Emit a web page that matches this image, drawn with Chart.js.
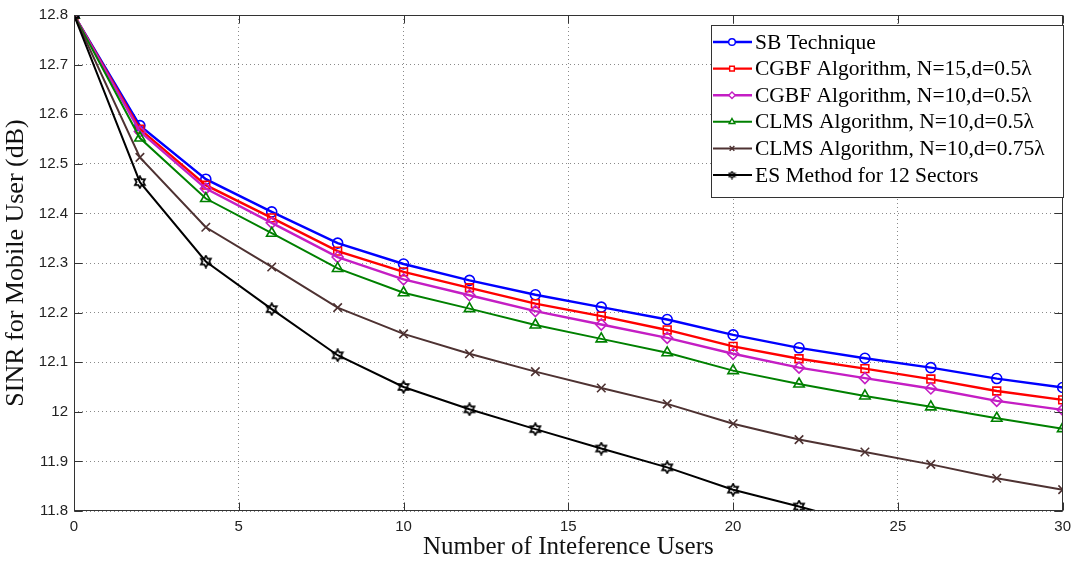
<!DOCTYPE html>
<html>
<head>
<meta charset="utf-8">
<script src="https://cdn.jsdelivr.net/npm/chart.js@4.4.1/dist/chart.umd.min.js"></script>
<style>
  html, body { margin:0; padding:0; background:#fff; }
</style>
</head>
<body>
<canvas id="c" width="1078" height="563"></canvas>
<script>
// number of interference users
const users = [0, 2, 4, 6, 8, 10, 12, 14, 16, 18, 20, 22, 24, 26, 28, 30];

// SINR (dB)
const sbTech    = [12.8, 12.577, 12.469, 12.403, 12.340, 12.298, 12.265, 12.236, 12.211, 12.186, 12.155, 12.129, 12.108, 12.089, 12.067, 12.049];
const cgbf15    = [12.8, 12.570, 12.457, 12.391, 12.324, 12.282, 12.250, 12.218, 12.193, 12.165, 12.132, 12.107, 12.087, 12.066, 12.042, 12.024];
const cgbf10    = [12.8, 12.565, 12.450, 12.381, 12.312, 12.267, 12.235, 12.203, 12.176, 12.149, 12.117, 12.089, 12.068, 12.047, 12.022, 12.004];
const clms05    = [12.8, 12.552, 12.430, 12.360, 12.289, 12.240, 12.208, 12.175, 12.147, 12.119, 12.083, 12.056, 12.032, 12.010, 11.987, 11.966];
const clms075   = [12.8, 12.513, 12.372, 12.292, 12.210, 12.157, 12.117, 12.081, 12.048, 12.016, 11.976, 11.944, 11.919, 11.894, 11.866, 11.843];
const esMethod  = [12.8, 12.463, 12.303, 12.207, 12.114, 12.050, 12.005, 11.965, 11.926, 11.888, 11.843, 11.809, 11.773, 11.740, 11.710, 11.680];

const labels = [
  'SB Technique',
  'CGBF Algorithm, N=15,d=0.5\u03bb',
  'CGBF Algorithm, N=10,d=0.5\u03bb',
  'CLMS Algorithm, N=10,d=0.5\u03bb',
  'CLMS Algorithm, N=10,d=0.75\u03bb',
  'ES Method for 12 Sectors'
];

const xTicks = [0, 5, 10, 15, 20, 25, 30];
const yTicks = [11.8, 11.9, 12, 12.1, 12.2, 12.3, 12.4, 12.5, 12.6, 12.7, 12.8];

const SERIF = '"Liberation Serif", "Times New Roman", serif';
const SANS = '"Liberation Sans", Arial, sans-serif';

// hexagram marker (matlab 'h')
function hexagram(size, color, lw){
  const c = document.createElement('canvas');
  c.width = c.height = size;
  const g = c.getContext('2d');
  const cx = size/2, cy = size/2, R = size/2 - 1.2, r = R*0.58;
  g.strokeStyle = color; g.lineWidth = lw;
  g.beginPath();
  for (let i = 0; i < 12; i++){
    const a = -Math.PI/2 + i*Math.PI/6;
    const rr = i % 2 ? r : R;
    const x = cx + rr*Math.cos(a), y = cy + rr*Math.sin(a);
    i ? g.lineTo(x, y) : g.moveTo(x, y);
  }
  g.closePath(); g.stroke();
  return c;
}
const hexBig = hexagram(14, '#000', 1.7);
const hexSmall = hexagram(9, '#000', 1.4);

const styles = [
  { color:'#0000ff', point:'circle',   radius:5,   width:2.4 },
  { color:'#ff0000', point:'rect',     radius:5.5, width:2.4 },
  { color:'#c41ec4', point:'rectRot',  radius:5.5, width:2.4 },
  { color:'#008000', point:'triangle', radius:6,   width:2 },
  { color:'#4e3232', point:'crossRot', radius:6,   width:2 },
  { color:'#000000', point:hexBig,     radius:6,   width:2 }
];
const series = [sbTech, cgbf15, cgbf10, clms05, clms075, esMethod];

const datasets = series.map((arr, i) => ({
  label: labels[i],
  data: users.map((u, k) => ({ x: u, y: arr[k] })),
  borderColor: styles[i].color,
  backgroundColor: 'rgba(0,0,0,0)',
  borderWidth: styles[i].width,
  pointStyle: styles[i].point,
  pointRadius: styles[i].radius,
  pointBorderWidth: 1.6,
  pointBorderColor: styles[i].color,
  pointBackgroundColor: 'rgba(0,0,0,0)',
  tension: 0,
  order: series.length - i
}));

// frame with inward ticks + matlab style legend box
const frame = {
  id: 'frame',
  afterDraw(chart){
    const { ctx, chartArea: a, scales: { x, y } } = chart;
    ctx.save();
    ctx.strokeStyle = '#333';
    ctx.lineWidth = 1;
    const seg = (x1, y1, x2, y2) => { ctx.beginPath(); ctx.moveTo(x1, y1); ctx.lineTo(x2, y2); ctx.stroke(); };
    const L = Math.round(a.left) + .5, R = Math.round(a.right) - .5;
    const T = Math.round(a.top) + .5, B = Math.round(a.bottom) - .5;
    ctx.strokeRect(L, T, R - L, B - T);
    xTicks.forEach(v => {
      const p = Math.round(x.getPixelForValue(v)) + .5;
      seg(p, B, p, B - 8); seg(p, T, p, T + 8);
    });
    yTicks.forEach(v => {
      const p = Math.round(y.getPixelForValue(v)) + .5;
      seg(L, p, L + 8, p); seg(R, p, R - 8, p);
    });

    // legend
    const bx = 711.5, by = 25.5, bw = 352, bh = 172;
    ctx.fillStyle = '#fff';
    ctx.fillRect(bx, by, bw, bh);
    ctx.strokeStyle = '#333';
    ctx.strokeRect(bx, by, bw, bh);
    ctx.font = '21.5px ' + SERIF;
    ctx.textBaseline = 'middle';
    chart.data.datasets.forEach((ds, i) => {
      const cy = 42 + i * 26.6;
      ctx.strokeStyle = ds.borderColor;
      ctx.lineWidth = ds.borderWidth;
      seg(713, cy, 752, cy);
      ctx.lineWidth = 1.4;
      ctx.fillStyle = '#fff';
      const ps = ds.pointStyle === hexBig ? hexSmall : ds.pointStyle;
      Chart.helpers.drawPoint(ctx, { pointStyle: ps, radius: 3.3, borderWidth: 1.4 }, 732, cy);
      ctx.fillStyle = '#000';
      ctx.fillText(ds.label, 755, cy + 1);
    });
    ctx.restore();
  }
};

new Chart(document.getElementById('c'), {
  type: 'line',
  data: { datasets },
  plugins: [frame],
  options: {
    responsive: false,
    animation: false,
    layout: { padding: { top: 12, right: 11, left: 0, bottom: 0 } },
    plugins: { legend: { display: false }, tooltip: { enabled: false } },
    scales: {
      x: {
        type: 'linear', min: 0, max: 30,
        afterBuildTicks: s => { s.ticks = xTicks.map(v => ({ value: v })); },
        afterFit: s => { s.height = 52; },
        grid: { color: '#8a8a8a', drawTicks: false, borderDash: [1, 3] },
        border: { display: false, dash: [1, 3] },
        ticks: { color: '#222', padding: 7, font: { family: SANS, size: 15 } },
        title: { display: true, text: 'Number of Inteference Users', color: '#111',
                 font: { family: SERIF, size: 25 }, padding: { top: 0, bottom: 1 } }
      },
      y: {
        type: 'linear', min: 11.8, max: 12.8,
        afterBuildTicks: s => { s.ticks = yTicks.map(v => ({ value: v })); },
        afterFit: s => { s.width = 74; },
        grid: { color: '#8a8a8a', drawTicks: false, borderDash: [1, 3] },
        border: { display: false, dash: [1, 3] },
        ticks: { color: '#222', padding: 6, font: { family: SANS, size: 15 },
                 callback: v => String(Number(v.toFixed(1))) },
        title: { display: true, text: 'SINR for Mobile User (dB)', color: '#111',
                 font: { family: SERIF, size: 26 }, padding: { top: 1, bottom: 0 } }
      }
    }
  }
});
</script>
</body>
</html>
